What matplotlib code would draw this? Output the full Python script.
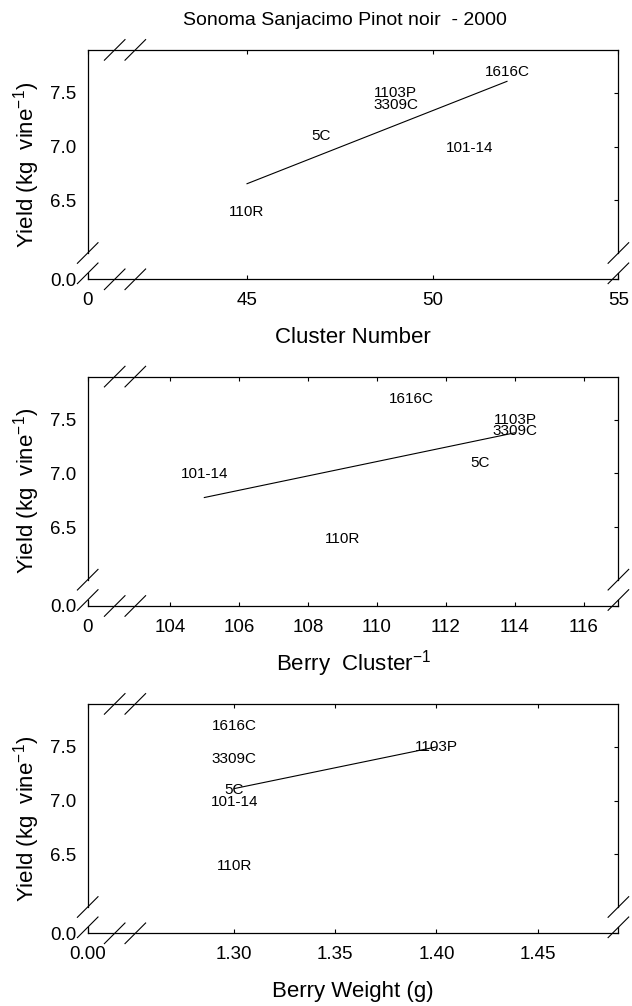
import numpy as np
import matplotlib
matplotlib.use("Agg")
import matplotlib.pyplot as plt

plt.rcParams['font.family'] = ['Liberation Sans', 'DejaVu Sans']
plt.rcParams['mathtext.fontset'] = 'custom'
plt.rcParams['mathtext.rm'] = 'Liberation Sans'
plt.rcParams['mathtext.it'] = 'Liberation Sans:italic'
plt.rcParams['mathtext.bf'] = 'Liberation Sans:bold'
plt.rcParams['mathtext.default'] = 'regular'

# ---------------- data ----------------
rootstocks = ['1616C', '1103P', '3309C', '5C', '101-14', '110R']
yield_kg = [7.69, 7.50, 7.39, 7.10, 6.99, 6.39]
cluster_number = [52, 49, 49, 47, 51, 45]
berry_per_cluster = [111, 114, 114, 113, 105, 109]
berry_weight = [1.30, 1.40, 1.30, 1.30, 1.30, 1.30]

y_ticks = [0, 6.5, 7.0, 7.5]
y_ticklabels = ['0.0', '6.5', '7.0', '7.5']

cn_ticks = [0, 45, 50, 55]
cn_ticklabels = ['0', '45', '50', '55']
bc_ticks = [0, 104, 106, 108, 110, 112, 114, 116]
bc_ticklabels = ['0', '104', '106', '108', '110', '112', '114', '116']
bw_ticks = [0, 1.30, 1.35, 1.40, 1.45]
bw_ticklabels = ['0.00', '1.30', '1.35', '1.40', '1.45']

title = 'Sonoma Sanjacimo Pinot noir  - 2000'
ylabel = 'Yield (kg  vine$^{-1}$)'
xlabels = ['Cluster Number', 'Berry  Cluster$^{-1}$', 'Berry Weight (g)']

# broken-axis layout: (where zero is shown, start of the linear part, upper limit)
x_break = [(40.71, 42.0, 55.0), (101.62, 103.0, 117.0), (1.2276, 1.25, 1.49)]
y_break = (5.766, 6.0, 7.9)


def break_funcs(lo_disp, first):
    xp = [0.0, first, first * 1000]
    fp = [lo_disp, first, first * 1000]
    fwd = lambda v: np.interp(v, xp, fp)
    inv = lambda v: np.interp(v, fp, xp)
    return fwd, inv


W, H = 632, 1006
fig = plt.figure(figsize=(W / 100, H / 100), dpi=100)

ax_left = 87.7 / W
ax_w = 530.7 / W
ax_h = 229.4 / H
bottoms = [1 - 279.3 / H, 1 - 606.0 / H, 1 - 933.3 / H]

xs_all = [cluster_number, berry_per_cluster, berry_weight]
xt_all = [(cn_ticks, cn_ticklabels), (bc_ticks, bc_ticklabels), (bw_ticks, bw_ticklabels)]

px_w = 530.7
px_h = 229.4
dslash_x = 10.3 / px_w
dslash_y = 10.3 / px_h
xbr = [27.0 / px_w, 47.6 / px_w]     # x-break slash centres (axes fraction)
ybr = [6.0 / px_h, 26.3 / px_h]      # y-break slash centres (axes fraction)

for i in range(3):
    ax = fig.add_axes([ax_left, bottoms[i], ax_w, ax_h])
    xs = xs_all[i]
    lo, first, hi = x_break[i]
    ax.set_xscale('function', functions=break_funcs(lo, first))
    ax.set_yscale('function', functions=break_funcs(y_break[0], y_break[1]))
    ax.set_xlim(0, hi)
    ax.set_ylim(0, y_break[2])

    ticks, labels = xt_all[i]
    ax.set_xticks(ticks)
    ax.set_xticklabels(labels)
    ax.set_yticks(y_ticks)
    ax.set_yticklabels(y_ticklabels)
    ax.minorticks_off()

    ax.tick_params(axis='x', direction='in', length=3, width=0.8,
                   top=True, bottom=True, labelsize=13.5, pad=9.5)
    ax.tick_params(axis='y', direction='in', length=3, width=0.8,
                   left=False, right=True, labelsize=13.5, pad=8)

    # labels at data points
    for name, xv, yv in zip(rootstocks, xs, yield_kg):
        ax.text(xv, yv, name, ha='center', va='center', fontsize=11)

    # linear regression line
    b1, b0 = np.polyfit(xs, yield_kg, 1)
    xl = np.array([min(xs), max(xs)])
    ax.plot(xl, b0 + b1 * xl, color='black', lw=0.8)

    # spines: left/right drawn with a gap at the y break
    for s in ['left', 'right']:
        ax.spines[s].set_visible(False)
    for s in ['top', 'bottom']:
        ax.spines[s].set_linewidth(0.9)
    tr = ax.transAxes
    for xx in (0, 1):
        ax.plot([xx, xx], [0, ybr[0]], color='black', lw=0.9, transform=tr, clip_on=False)
        ax.plot([xx, xx], [ybr[1], 1], color='black', lw=0.9, transform=tr, clip_on=False)
        for yc in ybr:
            ax.plot([xx - dslash_x, xx + dslash_x], [yc - dslash_y, yc + dslash_y],
                    color='black', lw=0.8, transform=tr, clip_on=False)
    for yy in (0, 1):
        for xc in xbr:
            ax.plot([xc - dslash_x, xc + dslash_x], [yy - dslash_y, yy + dslash_y],
                    color='black', lw=0.8, transform=tr, clip_on=False)

    ax.set_ylabel(ylabel, fontsize=16, va='center')
    ax.yaxis.set_label_coords(-61.0 / px_w, 0.5)
    ax.set_xlabel(xlabels[i], fontsize=16, va='center')
    ax.xaxis.set_label_coords(0.5, -58.0 / px_h)

    if i == 0:
        ax.text((345 - 87.7) / px_w, 1 + 29.0 / px_h, title, fontsize=14,
                ha='center', va='center', transform=tr)

fig.savefig('out.png', dpi=100)
